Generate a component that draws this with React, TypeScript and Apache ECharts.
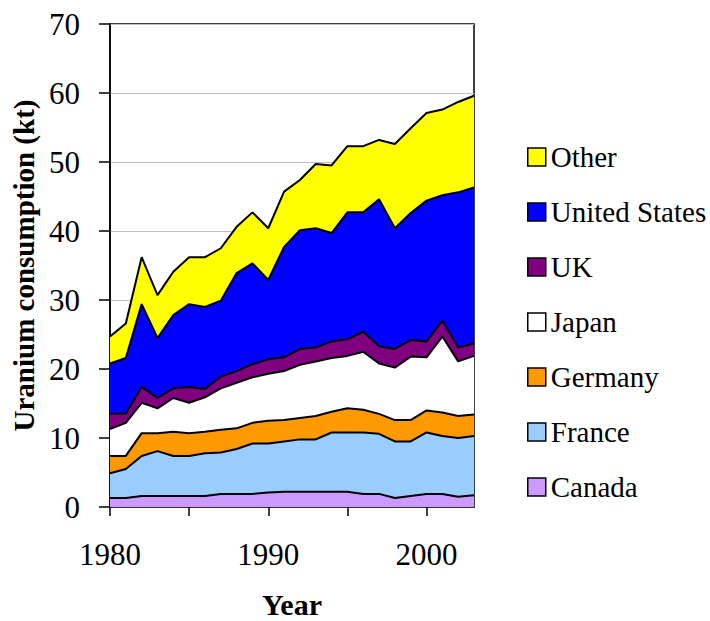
import React, { useEffect, useRef } from "react";
import * as echarts from "echarts";

const years = ["1980","1981","1982","1983","1984","1985","1986","1987","1988","1989","1990","1991","1992","1993","1994","1995","1996","1997","1998","1999","2000","2001","2002","2003"];
const canada = [1.3,1.3,1.6,1.6,1.6,1.6,1.6,1.9,1.9,1.9,2.1,2.2,2.2,2.2,2.2,2.2,1.9,1.9,1.3,1.6,1.9,1.9,1.5,1.7];
const france = [3.6,4.2,5.8,6.5,5.8,5.8,6.2,6.0,6.5,7.3,7.1,7.3,7.6,7.6,8.6,8.6,8.9,8.7,8.2,7.9,8.9,8.4,8.5,8.6];
const germany = [2.5,1.9,3.3,2.6,3.5,3.3,3.1,3.3,3.0,3.0,3.3,3.1,3.1,3.4,3.0,3.5,3.3,2.9,3.1,3.1,3.2,3.4,3.2,3.1];
const japan = [3.9,4.8,4.4,3.6,4.9,4.4,5.0,6.0,6.6,6.6,6.8,7.1,7.7,7.9,7.8,7.6,8.4,7.3,7.6,9.2,7.7,11.0,7.9,8.5];
const uk = [2.2,1.3,2.3,1.5,1.4,2.3,1.2,1.7,1.7,1.9,2.1,2.0,2.3,2.0,2.4,2.4,2.9,2.5,2.7,2.4,2.3,2.3,2.0,1.8];
const unitedStates = [7.3,8.1,12.0,8.7,10.6,12.0,11.9,11.0,14.2,14.6,11.5,16.0,17.2,17.3,15.7,18.4,17.3,21.3,17.5,18.4,20.4,18.2,22.5,22.6];
const other = [3.9,5.0,6.8,6.2,6.3,6.8,7.2,7.6,6.7,7.4,7.5,8.0,7.3,9.3,9.8,9.6,9.6,8.6,12.2,12.3,12.7,12.4,13.1,13.3];

const seriesNames = ["Canada", "France", "Germany", "Japan", "UK", "United States", "Other"];
const seriesValues = [canada, france, germany, japan, uk, unitedStates, other];
const seriesColors = ["#CC99FF", "#99CCFF", "#FF9900", "#FFFFFF", "#800080", "#0000FF", "#FFFF00"];
const legendOrder = ["Other", "United States", "UK", "Japan", "Germany", "France", "Canada"];

const FONT = "'Liberation Serif', 'Times New Roman', serif";

export default function App() {
  const ref = useRef<HTMLDivElement>(null);
  useEffect(() => {
    if (!ref.current) return;
    const chart = echarts.init(ref.current, undefined, { renderer: "svg" });
    chart.setOption({
      animation: false,
      backgroundColor: "#ffffff",
      textStyle: { fontFamily: FONT },
      grid: {
        left: 110, right: 236, top: 24, bottom: 114,
        outerBoundsMode: "none", containLabel: false,
        show: true, borderColor: "#000", borderWidth: 1.5, backgroundColor: "transparent",
      },
      legend: {
        orient: "vertical",
        left: 527,
        top: 142,
        padding: 0,
        icon: "rect",
        itemWidth: 18,
        itemHeight: 18,
        itemGap: 25,
        data: legendOrder,
        textStyle: { fontFamily: FONT, fontSize: 29, lineHeight: 30, color: "#000" },
        itemStyle: { borderColor: "#000", borderWidth: 1.5 },
      },
      xAxis: {
        type: "category",
        boundaryGap: false,
        data: years,
        name: "Year",
        nameLocation: "middle",
        nameGap: 82,
        nameTextStyle: { fontFamily: FONT, fontSize: 30, lineHeight: 30, fontWeight: "bold", color: "#000" },
        axisLine: { show: true, lineStyle: { color: "#000", width: 1.5 } },
        axisTick: { show: true, inside: false, length: 9, interval: (i: number) => i % 5 === 0, lineStyle: { color: "#000", width: 1.5 } },
        axisLabel: {
          fontFamily: FONT, fontSize: 31, color: "#000", margin: 32,
          interval: (i: number) => i % 10 === 0,
        },
        splitLine: { show: false },
      },
      yAxis: {
        type: "value",
        min: 0,
        max: 70,
        interval: 10,
        name: "Uranium consumption (kt)",
        nameLocation: "middle",
        nameGap: 72,
        nameTextStyle: { fontFamily: FONT, fontSize: 29, fontWeight: "bold", color: "#000" },
        axisLine: { show: true, lineStyle: { color: "#000", width: 1.5 } },
        axisTick: { show: true, inside: false, length: 11, lineStyle: { color: "#000", width: 1.5 } },
        axisLabel: { fontFamily: FONT, fontSize: 31, color: "#000", margin: 30 },
        splitLine: { show: true, lineStyle: { color: "#c0c0c0", width: 1 } },
      },
      series: seriesNames.map((name, i) => ({
        name,
        type: "line",
        stack: "total",
        symbol: "none",
        data: seriesValues[i],
        lineStyle: { color: "#000", width: 2 },
        itemStyle: { color: seriesColors[i], borderColor: "#000", borderWidth: 1.5 },
        areaStyle: { color: seriesColors[i], opacity: 1 },
        z: 2,
      })),
    });
    return () => chart.dispose();
  }, []);
  return <div ref={ref} style={{ position: "fixed", left: 0, top: 0, width: 710, height: 621 }} />;
}
